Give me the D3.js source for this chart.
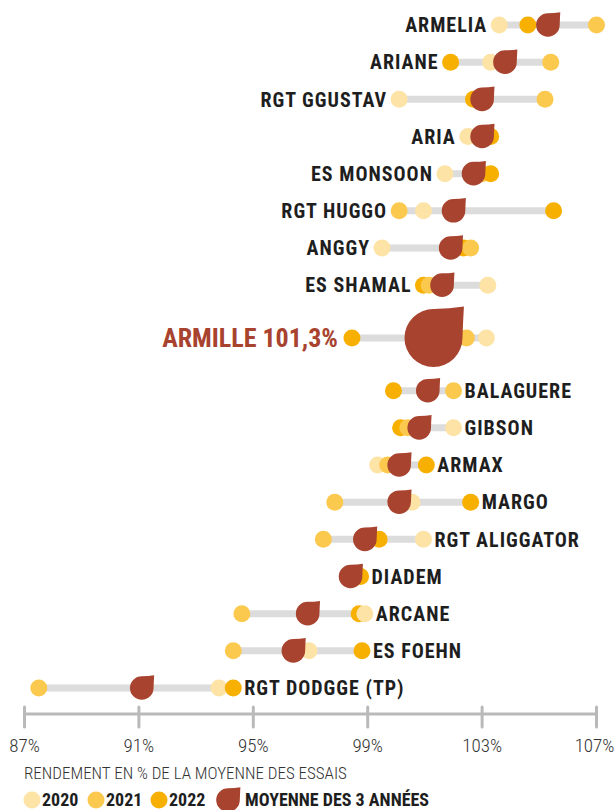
<!DOCTYPE html>
<html>
<head>
<meta charset="utf-8">
<script src="https://cdn.jsdelivr.net/npm/d3@7"></script>
<style>
  body { margin: 0; background: #fff; }
  svg { display: block; }
  text { font-family: Roboto, sans-serif; font-stretch: condensed; }
  .label { font-weight: bold; font-size: 20px; fill: #1e1e1e; letter-spacing: 1px; }
  .label--focus { font-size: 26px; fill: #a8432f; letter-spacing: 0; }
  .tick-label { font-weight: 300; font-size: 19px; fill: #333; }
  .legend-title { font-weight: 300; font-size: 17px; fill: #333; }
  .legend-label { font-weight: bold; font-size: 18px; fill: #1e1e1e; }
</style>
</head>
<body>
<script>
var WIDTH = 615;
var HEIGHT = 810;

// values, % of trial average
var varieties = ['ARMELIA', 'ARIANE', 'RGT GGUSTAV', 'ARIA', 'ES MONSOON', 'RGT HUGGO', 'ANGGY', 'ES SHAMAL',
    'ARMILLE', 'BALAGUERE', 'GIBSON', 'ARMAX', 'MARGO', 'RGT ALIGGATOR', 'DIADEM', 'ARCANE', 'ES FOEHN', 'RGT DODGGE (TP)'];
var y2020 = [103.6, 103.3, 100.1, 102.5, 101.7, 100.95, 99.5, 103.2, 103.15, 101.2, 102.0, 99.35, 100.55, 100.95, 98.3, 98.9, 96.95, 93.8];
var y2021 = [107.0, 105.4, 105.2, 103.1, 103.0, 100.1, 102.6, 101.15, 102.45, 102.0, 100.4, 99.7, 97.85, 97.45, 98.35, 94.6, 94.3, 87.5];
var y2022 = [104.6, 101.9, 102.7, 103.3, 103.3, 105.5, 102.35, 100.95, 98.45, 99.9, 100.15, 101.05, 102.6, 99.4, 98.75, 98.7, 98.8, 94.3];
var moyenne = [105.3, 103.8, 103.0, 103.0, 102.7, 102.0, 101.9, 101.6, 101.3, 101.1, 100.8, 100.1, 100.1, 98.9, 98.4, 96.9, 96.4, 91.1];
var focusVariety = 'ARMILLE';
var focusLabel = 'ARMILLE 101,3%';
var tickValues = [87, 91, 95, 99, 103, 107];
var years = ['2020', '2021', '2022'];
var yearValues = [y2020, y2021, y2022];
var yearColors = ['#fde3a6', '#fcc94f', '#f8b000'];
var DROP_COLOR = '#a8432f';

var focusIndex = varieties.indexOf(focusVariety);
var FOCUS_GAP = 0.42; // extra room around the highlighted variety

var x = d3.scaleLinear().domain([87, 107]).range([24.5, 596.5]);

// row position, the focus row gets more space
var rowPos = function (i) {
    if (i < focusIndex) return i;
    if (i === focusIndex) return i + FOCUS_GAP;
    return i + FOCUS_GAP * 2;
};
var y = d3.scaleLinear()
    .domain([0, rowPos(varieties.length - 1)])
    .range([25, 688]);

var color = d3.scaleOrdinal().domain(years).range(yearColors);

var rows = varieties.map(function (name, i) {
    var dots = years.map(function (yr, k) { return { year: yr, value: yearValues[k][i] }; });
    return {
        name: name,
        index: i,
        dots: dots.slice().sort(function (a, b) { return a.value - b.value; }), // right-most drawn on top
        min: d3.min(dots, function (d) { return d.value; }),
        max: d3.max(dots, function (d) { return d.value; }),
        mean: moyenne[i],
        focus: i === focusIndex
    };
});

// circle with a sharp tip at the top right
var dropPath = function (cx, cy, r) {
    return 'M' + cx + ',' + (cy - r) +
        'A' + r + ',' + r + ' 0 1 0 ' + (cx + r) + ',' + cy +
        'Q' + (cx + r * 1.02) + ',' + (cy - r * 0.6) + ' ' + (cx + r * 1.05) + ',' + (cy - r * 1.08) +
        'Q' + (cx + r * 0.55) + ',' + (cy - r * 1.0) + ' ' + cx + ',' + (cy - r) + 'Z';
};

var svg = d3.select('body').append('svg')
    .attr('width', WIDTH)
    .attr('height', HEIGHT);

var row = svg.selectAll('g.row')
    .data(rows)
    .enter()
    .append('g')
    .attr('class', 'row')
    .attr('transform', function (d) { return 'translate(0,' + y(rowPos(d.index)) + ')'; });

row.append('line')
    .attr('x1', function (d) { return x(d.min); })
    .attr('x2', function (d) { return x(d.max); })
    .attr('stroke', '#dcdcdc')
    .attr('stroke-width', 7);

row.selectAll('circle.dot')
    .data(function (d) { return d.dots; })
    .enter()
    .append('circle')
    .attr('class', 'dot')
    .attr('cx', function (d) { return x(d.value); })
    .attr('cy', 0)
    .attr('r', 8.5)
    .attr('fill', function (d) { return color(d.year); });

row.append('path')
    .attr('d', function (d) { return dropPath(x(d.mean), 0, d.focus ? 29 : 11.8); })
    .attr('fill', DROP_COLOR);

// labels: left of the lowest dot above the focus row, right of the highest below it
row.append('text')
    .attr('class', function (d) { return d.focus ? 'label label--focus' : 'label'; })
    .attr('x', function (d) {
        if (d.index <= focusIndex) return x(d.min) - (d.focus ? 14 : 12);
        return x(d.max) + 11;
    })
    .attr('y', 0)
    .attr('dy', '0.36em')
    .attr('text-anchor', function (d) { return d.index <= focusIndex ? 'end' : 'start'; })
    .text(function (d) { return d.focus ? focusLabel : d.name; });

// axis
var AXIS_Y = 714;
var axis = svg.append('g').attr('transform', 'translate(0,' + AXIS_Y + ')');
axis.append('line')
    .attr('x1', x(87)).attr('x2', x(107))
    .attr('stroke', '#b9b9b9').attr('stroke-width', 3);
axis.selectAll('line.tick')
    .data(tickValues)
    .enter()
    .append('line')
    .attr('class', 'tick')
    .attr('x1', x).attr('x2', x)
    .attr('y1', -7).attr('y2', 13)
    .attr('stroke', '#b9b9b9').attr('stroke-width', 3)
    .attr('stroke-linecap', 'round');
axis.selectAll('text.tick-label')
    .data(tickValues)
    .enter()
    .append('text')
    .attr('class', 'tick-label')
    .attr('x', x)
    .attr('y', 38)
    .attr('text-anchor', function (d, i) { return i === tickValues.length - 1 ? 'end' : 'middle'; })
    .attr('dx', function (d, i) { return i === tickValues.length - 1 ? 18 : 0; })
    .text(function (d) { return d + '%'; });

// legend
svg.append('text')
    .attr('class', 'legend-title')
    .attr('x', 24)
    .attr('y', 779)
    .text('RENDEMENT EN % DE LA MOYENNE DES ESSAIS');

var legendItems = years.map(function (yr) { return { key: yr, label: yr }; })
    .concat([{ key: 'moyenne', label: 'MOYENNE DES 3 ANNÉES' }]);
var legendX = [32, 96, 159, 228];

var legend = svg.selectAll('g.legend-item')
    .data(legendItems)
    .enter()
    .append('g')
    .attr('class', 'legend-item')
    .attr('transform', function (d, i) { return 'translate(' + legendX[i] + ',800)'; });

legend.filter(function (d) { return d.key !== 'moyenne'; })
    .append('circle')
    .attr('r', 8.5)
    .attr('fill', function (d) { return color(d.key); });

legend.filter(function (d) { return d.key === 'moyenne'; })
    .append('path')
    .attr('d', dropPath(0, 0, 11.8))
    .attr('fill', DROP_COLOR);

legend.append('text')
    .attr('class', 'legend-label')
    .attr('x', function (d) { return d.key === 'moyenne' ? 17 : 10; })
    .attr('dy', '0.36em')
    .text(function (d) { return d.label; });
</script>
</body>
</html>
